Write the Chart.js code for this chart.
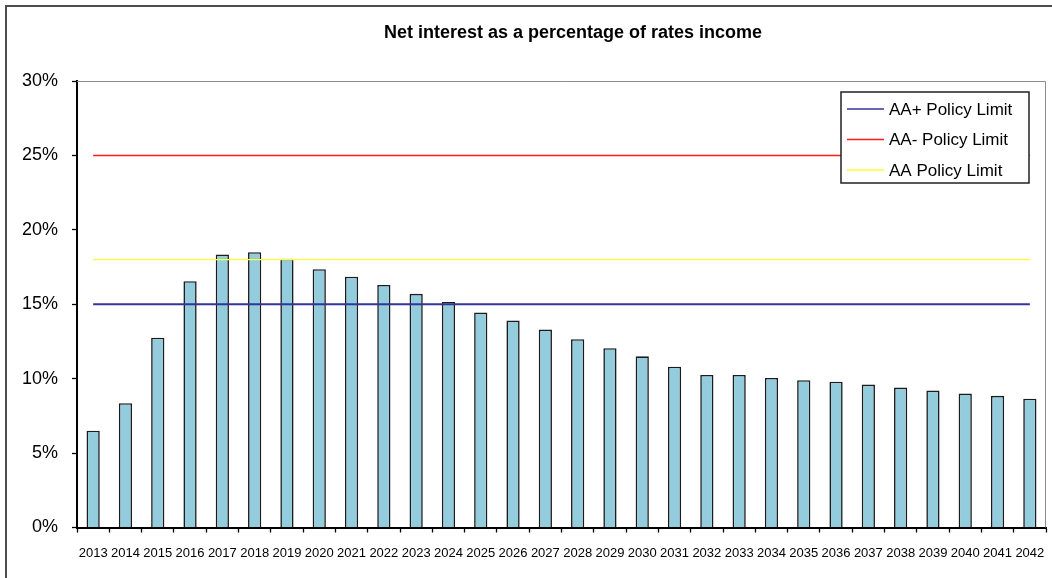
<!DOCTYPE html>
<html>
<head>
<meta charset="utf-8">
<script src="https://cdn.jsdelivr.net/npm/chart.js@4.4.1/dist/chart.umd.min.js"></script>
<style>
  html, body { margin: 0; padding: 0; background: #fff; overflow: hidden; }
  #wrap { position: relative; width: 1052px; height: 578px; }
  #frame {
    position: absolute; left: 5px; top: 5px; width: 1100px; height: 700px;
    border: 2px solid #4d4d4d; box-sizing: border-box; pointer-events: none;
  }
  canvas { position: absolute; left: 0; top: 0; }
</style>
</head>
<body>
<div id="wrap">
  <canvas id="myChart" width="1052" height="578"></canvas>
  <div id="frame"></div>
</div>
<script>
let years = [
  "2013", "2014", "2015", "2016", "2017", "2018", "2019", "2020", "2021", "2022",
  "2023", "2024", "2025", "2026", "2027", "2028", "2029", "2030", "2031", "2032",
  "2033", "2034", "2035", "2036", "2037", "2038", "2039", "2040", "2041", "2042",
];

// net interest / rates income, %
let netInterest = [
  6.5, 8.35, 12.75, 16.55, 18.35, 18.5, 18.05, 17.35, 16.85, 16.3,
  15.7, 15.15, 14.45, 13.9, 13.3, 12.65, 12.05, 11.5, 10.8, 10.25,
  10.25, 10.05, 9.9, 9.8, 9.6, 9.4, 9.2, 9.0, 8.85, 8.65,
];

let aaPlusLimit = 15;
let aaMinusLimit = 25;
let aaLimit = 18;

let yTicks = [0, 5, 10, 15, 20, 25, 30];

let FONT = "'Liberation Sans', Arial, sans-serif";

let flat = (v) => years.map(() => v);

let limitLine = (label, value, color, width) => ({
  type: "line",
  label: label,
  data: flat(value),
  borderColor: color,
  borderWidth: width,
  pointRadius: 0,
  fill: false,
  order: 0,
});

// grey plot-area edge on top and right
let plotBorder = {
  id: "plotBorder",
  beforeDatasetsDraw(chart) {
    let { ctx, chartArea: a } = chart;
    ctx.save();
    ctx.strokeStyle = "#8c8c8c";
    ctx.lineWidth = 1;
    ctx.beginPath();
    ctx.moveTo(a.left, a.top + 0.5);
    ctx.lineTo(a.right - 0.5, a.top + 0.5);
    ctx.lineTo(a.right - 0.5, a.bottom);
    ctx.stroke();
    ctx.restore();
  },
};

let titleText = {
  id: "titleText",
  afterDraw(chart) {
    let ctx = chart.ctx;
    ctx.save();
    ctx.font = "bold 18px " + FONT;
    ctx.fillStyle = "#000";
    ctx.textAlign = "center";
    ctx.textBaseline = "middle";
    ctx.fillText("Net interest as a percentage of rates income", 573, 33);
    ctx.restore();
  },
};

// boxed legend over the top right of the plot
let boxLegend = {
  id: "boxLegend",
  afterDatasetsDraw(chart) {
    let ctx = chart.ctx;
    let x = 841, y = 92, w = 188, h = 91;
    ctx.save();
    ctx.fillStyle = "#fff";
    ctx.fillRect(x, y, w, h);
    ctx.strokeStyle = "#222";
    ctx.lineWidth = 1.5;
    ctx.strokeRect(x, y, w, h);
    ctx.font = "17px " + FONT;
    ctx.textBaseline = "middle";
    ctx.textAlign = "left";
    let rows = [109, 139.5, 170];
    chart.data.datasets
      .filter((d) => d.type === "line")
      .forEach((d, i) => {
        ctx.strokeStyle = d.borderColor;
        ctx.lineWidth = 1.5;
        ctx.beginPath();
        ctx.moveTo(847, rows[i]);
        ctx.lineTo(884, rows[i]);
        ctx.stroke();
        ctx.fillStyle = "#000";
        ctx.fillText(d.label, 889, rows[i] + 1);
      });
    ctx.restore();
  },
};

let ctx = document.getElementById("myChart").getContext("2d");

let myChart = new Chart(ctx, {
  type: "bar",
  data: {
    labels: years,
    datasets: [
      limitLine("AA+ Policy Limit", aaPlusLimit, "#333399", 2),
      limitLine("AA- Policy Limit", aaMinusLimit, "#ff1a1a", 1.5),
      limitLine("AA Policy Limit", aaLimit, "#ffff33", 1.2),
      {
        type: "bar",
        label: "Net interest",
        data: netInterest,
        backgroundColor: "#93cddd",
        borderColor: "#1c1c1c",
        borderWidth: 1.6,
        barPercentage: 0.41,
        categoryPercentage: 1,
        order: 1,
      },
    ],
  },
  options: {
    responsive: false,
    animation: false,
    devicePixelRatio: 1,
    layout: { padding: { top: 81, right: 6, left: 0, bottom: 0 } },
    plugins: {
      legend: { display: false },
      title: { display: false },
      tooltip: { enabled: false },
    },
    scales: {
      x: {
        grid: {
          offset: true,
          drawOnChartArea: false,
          tickLength: 5,
          tickColor: "#000",
          tickWidth: 1.3,
        },
        border: { color: "#000", width: 2 },
        ticks: {
          autoSkip: false,
          maxRotation: 0,
          padding: 13,
          color: "#000",
          font: { family: FONT, size: 13 },
        },
        afterFit(s) {
          s.height = 50.5;
          s.paddingLeft = 0;
          s.paddingRight = 0;
        },
      },
      y: {
        min: 0,
        max: 30,
        afterBuildTicks(s) {
          s.ticks = yTicks.map((v) => ({ value: v }));
        },
        grid: {
          drawOnChartArea: false,
          tickLength: 5,
          tickColor: "#000",
          tickWidth: 1.3,
        },
        border: { color: "#000", width: 2 },
        ticks: {
          padding: 14,
          color: "#000",
          font: { family: FONT, size: 18 },
          callback: (v) => v + "%",
        },
        afterFit(s) {
          s.width = 77;
        },
      },
    },
  },
  plugins: [plotBorder, boxLegend, titleText],
});
</script>
</body>
</html>
